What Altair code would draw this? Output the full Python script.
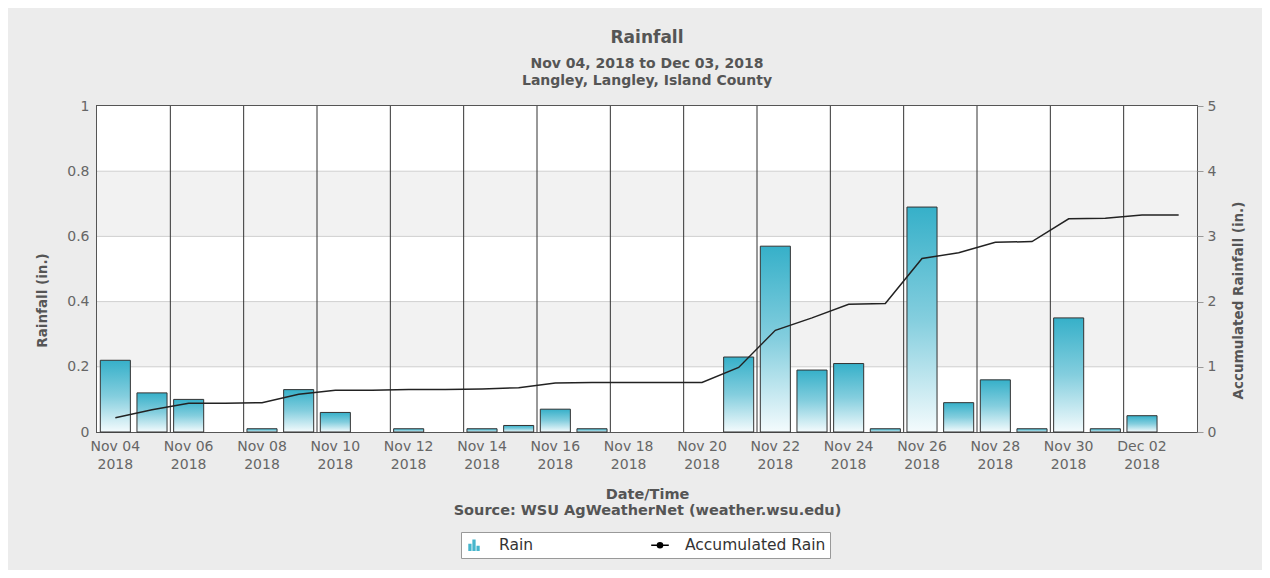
import altair as alt
import pandas as pd

# ---- data ----
days = ["Nov 04 2018", "Nov 05 2018", "Nov 06 2018", "Nov 07 2018", "Nov 08 2018",
        "Nov 09 2018", "Nov 10 2018", "Nov 11 2018", "Nov 12 2018", "Nov 13 2018",
        "Nov 14 2018", "Nov 15 2018", "Nov 16 2018", "Nov 17 2018", "Nov 18 2018",
        "Nov 19 2018", "Nov 20 2018", "Nov 21 2018", "Nov 22 2018", "Nov 23 2018",
        "Nov 24 2018", "Nov 25 2018", "Nov 26 2018", "Nov 27 2018", "Nov 28 2018",
        "Nov 29 2018", "Nov 30 2018", "Dec 01 2018", "Dec 02 2018", "Dec 03 2018"]
rain = [0.22, 0.12, 0.10, 0.00, 0.01, 0.13, 0.06, 0.00, 0.01, 0.00,
        0.01, 0.02, 0.07, 0.01, 0.00, 0.00, 0.00, 0.23, 0.57, 0.19,
        0.21, 0.01, 0.69, 0.09, 0.16, 0.01, 0.35, 0.01, 0.05, 0.00]
accumulated = [0.22, 0.34, 0.44, 0.44, 0.45, 0.58, 0.64, 0.64, 0.65, 0.65,
               0.66, 0.68, 0.75, 0.76, 0.76, 0.76, 0.76, 0.99, 1.56, 1.75,
               1.96, 1.97, 2.66, 2.75, 2.91, 2.92, 3.27, 3.28, 3.33, 3.33]
label_days = days[::2]          # labelled ticks
divider_days = days[2::2]       # vertical separators
band_low = [0.0, 0.2, 0.4, 0.6, 0.8]
band_high = [0.2, 0.4, 0.6, 0.8, 1.0]
band_shade = ["#ffffff", "#f2f2f2", "#ffffff", "#f2f2f2", "#ffffff"]
grid_values = [0.2, 0.4, 0.6, 0.8]
left_ticks = [0, 0.2, 0.4, 0.6, 0.8, 1]
right_ticks = [0, 1, 2, 3, 4, 5]
series = ["Rain", "Accumulated Rain"]

df = pd.DataFrame({"day": days, "rain": rain, "accum": accumulated})
bands_df = pd.DataFrame({"lo": band_low, "hi": band_high, "shade": band_shade})
grid_df = pd.DataFrame({"v": grid_values})
div_df = pd.DataFrame({"day": divider_days})
leg_df = pd.DataFrame({"series": series})

FONT = "DejaVu Sans"
W, H = 1100, 326

xscale = alt.Scale(domain=days, paddingInner=0, paddingOuter=0)
yscale = alt.Scale(domain=[0, 1], nice=False)

x_axis = alt.Axis(
    values=label_days,
    labelExpr="[slice(datum.value, 0, 6), slice(datum.value, 7)]",
    labelAngle=0, labelOverlap=False, ticks=False, domain=False,
    labelFont=FONT, labelFontSize=14, labelColor="#666", labelPadding=7,
    labelLineHeight=18,
    title=["Date/Time", "Source: WSU AgWeatherNet (weather.wsu.edu)"],
    titleFont=FONT, titleFontSize=14.5, titleFontWeight="bold", titleColor="#555",
    titlePadding=16, titleLineHeight=16,
)

left_axis = alt.Axis(
    values=left_ticks, format="~g", grid=False, ticks=False, domain=False,
    labelFont=FONT, labelFontSize=14, labelColor="#666", labelPadding=8,
    title="Rainfall (in.)", titleFont=FONT, titleFontSize=13.5,
    titleFontWeight="bold", titleColor="#555", titlePadding=17, titleY=194,
)

bands = alt.Chart(bands_df).mark_rect().encode(
    y=alt.Y("lo:Q", scale=yscale, axis=left_axis, title="Rainfall (in.)"),
    y2="hi:Q",
    color=alt.Color("shade:N", scale=None),
)

grid = alt.Chart(grid_df).mark_rule(color="#d0d0d0", strokeWidth=1).encode(
    y=alt.Y("v:Q", scale=yscale, axis=left_axis, title="Rainfall (in.)"),
)

dividers = alt.Chart(div_df).mark_rule(color="#333333", strokeWidth=1).encode(
    x=alt.X("day:O", scale=xscale, bandPosition=0, axis=x_axis),
)

gradient = alt.Gradient(
    gradient="linear",
    stops=[alt.GradientStop(color="#36b0c9", offset=0),
           alt.GradientStop(color="#84cede", offset=0.5),
           alt.GradientStop(color="#f4fbfd", offset=1)],
    x1=0, x2=0, y1=0, y2=1,
)

bars = alt.Chart(df).transform_filter("datum.rain > 0").mark_bar(
    fill=gradient, stroke="#333333", strokeWidth=1,
    width=alt.RelativeBandSize(0.82),
).encode(
    x=alt.X("day:O", scale=xscale, axis=x_axis),
    y=alt.Y("rain:Q", scale=yscale, axis=left_axis, title="Rainfall (in.)"),
)

rain_icon = ("M-0.62,0.62V-0.1H-0.4V0.62Z M-0.11,0.62V-0.62H0.11V0.62Z "
             "M0.4,0.62V0.15H0.62V0.62Z")
line_icon = ("M-1.1,0H1.1 M-0.32,0A0.32,0.32,0,1,1,0.32,0A0.32,0.32,0,1,1,-0.32,0Z")

icon_colors = ["#45b5cc", "#000000"]
legend_layer = alt.Chart(leg_df).mark_point(filled=True, size=0, opacity=1).encode(
    fill=alt.Fill("series:N", scale=alt.Scale(domain=series, range=icon_colors),
                  legend=alt.Legend(
                      title=None, orient="none", legendX=364, legendY=426,
                      direction="horizontal", columns=2, columnPadding=114,
                      fillColor="white", strokeColor="#999999", padding=4,
                      symbolSize=256, symbolOpacity=1, symbolStrokeWidth=1.5,
                      labelFont=FONT, labelFontSize=15.5, labelColor="#333",
                      labelOffset=16)),
    stroke=alt.Stroke("series:N", scale=alt.Scale(domain=series, range=icon_colors)),
    shape=alt.Shape("series:N", scale=alt.Scale(domain=series, range=[rain_icon, line_icon])),
)

left = alt.layer(bands, grid, dividers, bars, legend_layer)

line = alt.Chart(df).mark_line(color="#222222", strokeWidth=1.5).encode(
    x=alt.X("day:O", scale=xscale, axis=x_axis),
    y=alt.Y("accum:Q", scale=alt.Scale(domain=[0, 5], nice=False), axis=alt.Axis(
        orient="right", values=right_ticks, grid=False, ticks=True,
        tickSize=6, tickColor="#999", domain=False, labelFont=FONT,
        labelFontSize=14, labelColor="#666", labelPadding=4,
        title="Accumulated Rainfall (in.)", titleFont=FONT, titleFontSize=13.5,
        titleFontWeight="bold", titleColor="#555", titlePadding=30,
        titleAngle=270, titleY=194)),
)

chart = alt.layer(left, line).resolve_scale(y="independent").properties(
    width=W, height=H,
    autosize=alt.AutoSizeParams(type="none"),
    padding={"left": 89, "top": 98, "right": 65, "bottom": 138},
    background="#ececec",
    title=alt.TitleParams(
        text="Rainfall",
        subtitle=["Nov 04, 2018 to Dec 03, 2018", "Langley, Langley, Island County"],
        font=FONT, fontSize=17, fontWeight="bold", color="#555",
        subtitleFont=FONT, subtitleFontSize=14, subtitleFontWeight="bold",
        subtitleColor="#555", subtitlePadding=10, subtitleLineHeight=17,
        anchor="middle", frame="group", offset=10,
    ),
).configure_view(stroke="#555555", strokeWidth=2)

chart.save("out.html", embed_options={"renderer": "svg", "actions": False})
